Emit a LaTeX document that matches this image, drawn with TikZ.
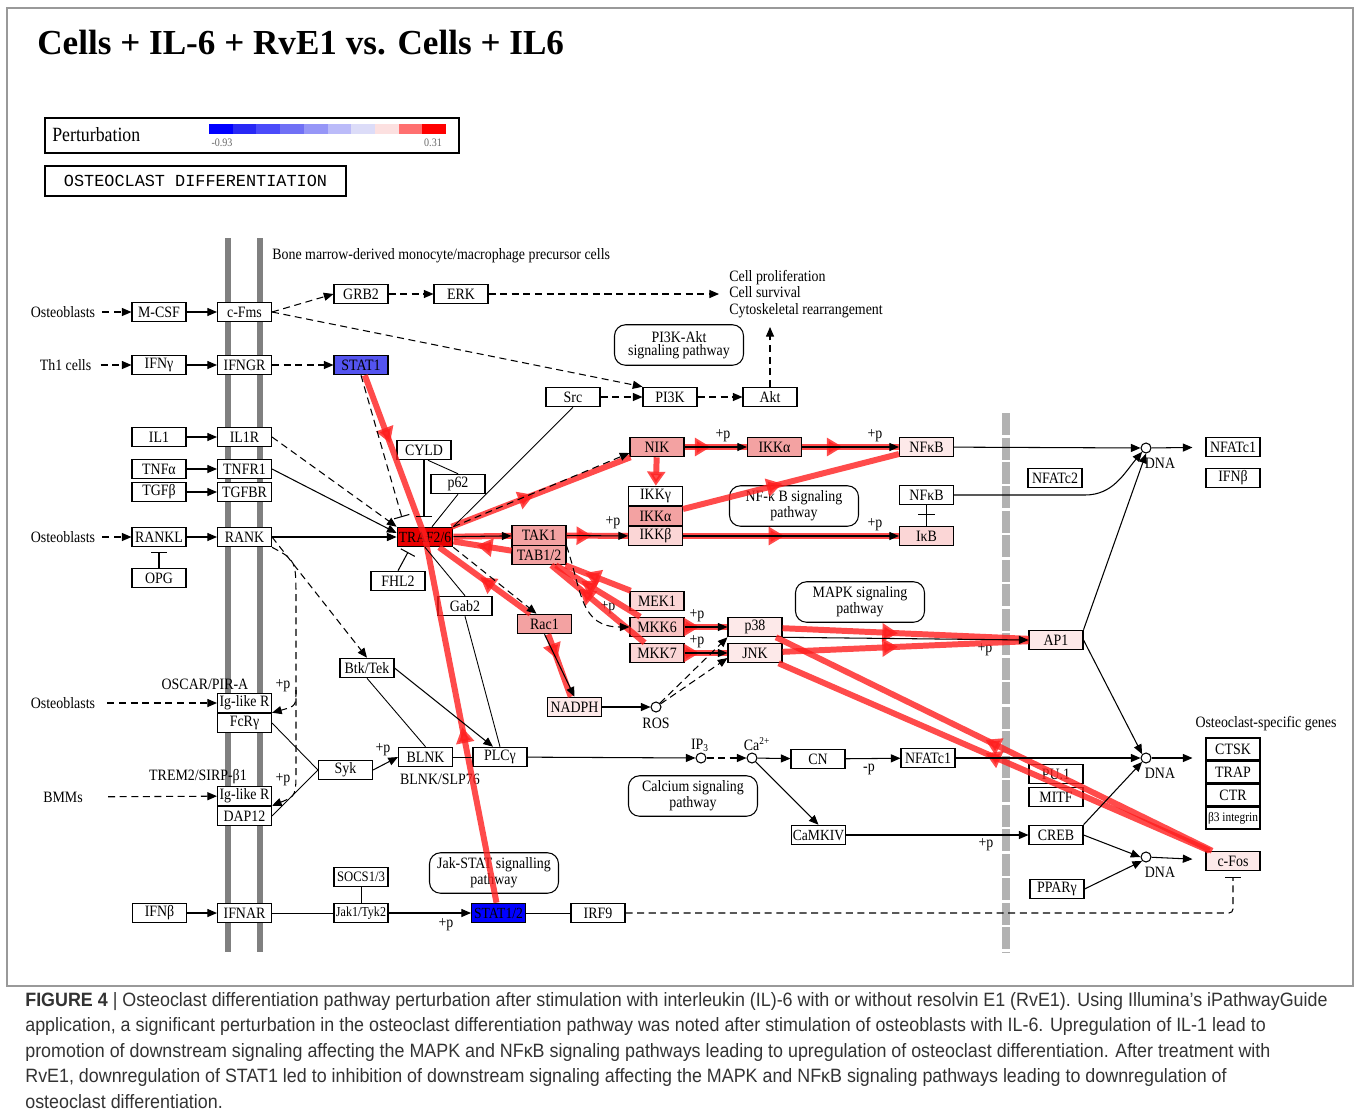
\documentclass[tikz,border=0pt]{standalone}
\usepackage{fontspec}
\setmainfont{Liberation Serif}
\newfontfamily\keggfont[FakeStretch=0.88]{Liberation Serif}
\newfontfamily\capfont[FakeStretch=0.925]{Liberation Sans}
\newfontfamily\legendmono{Liberation Mono}
\usetikzlibrary{arrows.meta, decorations.markings, calc}
\definecolor{PertRed}{RGB}{255,30,30}
\definecolor{StatOne}{RGB}{84,84,240}
\definecolor{StatTwo}{RGB}{0,0,255}
\definecolor{TrafRed}{RGB}{232,0,0}
\definecolor{PinkA}{RGB}{243,162,162}
\definecolor{PinkB}{RGB}{249,196,196}
\definecolor{PinkC}{RGB}{251,214,214}
\definecolor{PinkD}{RGB}{253,233,233}

\begin{document}
\begin{tikzpicture}[x=0.02cm, y=-0.02cm,
  gene/.style={draw, line width=0.6pt, fill=white, minimum width=1.08cm, minimum height=0.39cm, inner sep=1pt, font=\keggfont\fontsize{9}{9.5}\selectfont},
  lbl/.style={inner sep=0pt, font=\keggfont\fontsize{9}{9.4}\selectfont},
  pathbox/.style={draw, line width=0.6pt, rounded corners=0.22cm, align=center, minimum width=2.58cm, minimum height=0.81cm, inner sep=0pt, font=\keggfont\fontsize{9}{7.6}\selectfont},
  dna/.style={draw, circle, line width=0.6pt, fill=white, minimum size=0.2cm, inner sep=0pt},
  ar/.style={line width=0.6pt, -{Triangle[length=5.5pt,width=4.6pt]}},
  dar/.style={ar, dash pattern=on 4pt off 2.6pt},
  ln/.style={line width=0.5pt},
  inh/.style={line width=0.6pt, -{Bar[width=9pt]}},
  dinh/.style={inh, dash pattern=on 4pt off 2.6pt},
  rline/.style={line width=3.4pt, draw=PertRed, opacity=0.8},
  rmark/.style={rline, postaction={decorate}, decoration={markings, mark=at position #1 with {\arrow{Triangle[length=9pt,width=10pt]}}}},
  rmark/.default=0.45,
  rback/.style={rline, postaction={decorate}, decoration={markings, mark=at position #1 with {\arrowreversed{Triangle[length=9pt,width=10pt]}}}},
  rback/.default=0.45]
\useasboundingbox (0,0) rectangle (1358,1116);
\draw[black!40, line width=0.6pt] (7,8) rectangle (1353,986);

% title and legends
\node[anchor=west, inner sep=0pt, font=\bfseries\fontsize{20}{24}\selectfont] (title) at (37,43) {Cells + IL-6 + RvE1 vs. Cells + IL6};
\draw[line width=1.3pt] (45,118) rectangle (459,153);
\node[lbl, anchor=west, font=\keggfont\fontsize{11.5}{12}\selectfont] (pertlbl) at (52,135) {Perturbation};
\foreach \r/\g/\b [count=\i from 0] in {0/0/255, 40/40/245, 75/75/250, 112/112/245, 150/150/247, 187/187/249, 220/220/248, 252/224/224, 255/112/112, 255/0/0}
  \fill[fill={rgb,255:red,\r;green,\g;blue,\b}] (209+23.7*\i,124) rectangle ++(23.7,10);
\node[lbl, font=\keggfont\fontsize{6.5}{7}\selectfont, text=black!60] (pertmin) at (222,143) {-0.93};
\node[lbl, font=\keggfont\fontsize{6.5}{7}\selectfont, text=black!60] (pertmax) at (433,143) {0.31};
\node[draw, line width=1.3pt, minimum width=6.02cm, minimum height=0.6cm, inner sep=0pt, font=\legendmono\fontsize{9.6}{11}\selectfont] (mapname) at (195.5,181) {OSTEOCLAST DIFFERENTIATION};

% membranes
\draw[line width=0.12cm, black!50] (228,238) -- (228,952);
\draw[line width=0.12cm, black!50] (259.5,238) -- (259.5,952);
\draw[line width=0.17cm, black!30, dash pattern=on 0.44cm off 0.05cm] (1006,413) -- (1006,952);

% plain labels
\node[lbl] (ob1) at (63,312) {Osteoblasts};
\node[lbl] (th1) at (65.5,365) {Th1 cells};
\node[lbl] (ob2) at (63,537) {Osteoblasts};
\node[lbl] (ob3) at (63,703) {Osteoblasts};
\node[lbl] (bmms) at (63,797) {BMMs};
\node[lbl] (oscar) at (205,684) {OSCAR/PIR-A};
\node[lbl] (trem) at (198,777) {TREM2/SIRP-β1};
\node[lbl, anchor=west] (bone) at (272,256) {Bone marrow-derived monocyte/macrophage precursor cells};
\node[lbl, anchor=west, align=left] (cellprol) at (729,294) {Cell proliferation\\Cell survival\\Cytoskeletal rearrangement};
\node[lbl] (blnklbl) at (440,779) {BLNK/SLP76};
\node[lbl] (roslbl) at (656,723) {ROS};
\node[lbl] (ip3lbl) at (700,745) {IP\textsubscript{3}};
\node[lbl] (calbl) at (757,744) {Ca\textsuperscript{2+}};
\node[lbl] (dnalbl1) at (1160,463) {DNA};
\node[lbl] (dnalbl2) at (1160,773) {DNA};
\node[lbl] (dnalbl3) at (1160,872) {DNA};
\node[lbl] (genelbl) at (1266,724) {Osteoclast-specific genes};
\node[lbl] (minusp) at (869,769) {-p};
\foreach \x/\y [count=\k] in {283/686, 283/780, 383/750, 613/523, 608/608, 697/616, 697/642, 723/436, 875/436, 875/525, 985/650, 986/845, 446/925}
  \node[lbl] (plus\k) at (\x,\y) {+p};

% pathway boxes
\node[pathbox] (pi3kakt) at (679,345) {PI3K-Akt\\signaling pathway};
\node[pathbox] (nfkbpath) at (794,506) {NF-κ B signaling\\pathway};
\node[pathbox] (mapkpath) at (860,602) {MAPK signaling\\pathway};
\node[pathbox] (capath) at (693,796) {Calcium signaling\\pathway};
\node[pathbox] (jakpath) at (494,873) {Jak-STAT signalling\\pathway};

% receptor column
\node[gene] (mcsf) at (159,312) {M-CSF};
\node[gene] (cfms) at (244.5,312) {c-Fms};
\node[gene] (ifng) at (159,365) {IFNγ};
\node[gene] (ifngr) at (244.5,365) {IFNGR};
\node[gene] (il1) at (159,437) {IL1};
\node[gene] (il1r) at (244.5,437) {IL1R};
\node[gene] (tnfa) at (159,469) {TNFα};
\node[gene] (tnfr1) at (244.5,469) {TNFR1};
\node[gene] (tgfb) at (159,492) {TGFβ};
\node[gene] (tgfbr) at (244.5,492) {TGFBR};
\node[gene] (rankl) at (159,537) {RANKL};
\node[gene] (rank) at (244.5,537) {RANK};
\node[gene] (opg) at (159,578) {OPG};
\node[gene] (iglr1) at (244.5,703) {Ig-like R};
\node[gene] (fcrg) at (244.5,723) {FcRγ};
\node[gene] (iglr2) at (244.5,796) {Ig-like R};
\node[gene] (dap12) at (244.5,816) {DAP12};
\node[gene] (ifnb1) at (159.5,913) {IFNβ};
\node[gene] (ifnar) at (244.5,913) {IFNAR};

% cytoplasm
\node[gene] (grb2) at (361,294) {GRB2};
\node[gene] (erk) at (461,294) {ERK};
\node[gene, fill=StatOne] (stat1) at (361,365) {STAT1};
\node[gene] (src) at (573,397) {Src};
\node[gene] (pi3k) at (670,397) {PI3K};
\node[gene] (akt) at (770,397) {Akt};
\node[gene] (cyld) at (424,450) {CYLD};
\node[gene] (p62) at (458,484) {p62};
\node[gene, fill=TrafRed, font=\keggfont\fontsize{8.8}{9}\selectfont] (traf) at (425,537) {TRAF2/6};
\node[gene] (fhl2) at (398,581) {FHL2};
\node[gene] (gab2) at (465,606) {Gab2};
\node[gene, fill=PinkA] (tak1) at (539,535.5) {TAK1};
\node[gene, fill=PinkA] (tab12) at (539,555) {TAB1/2};
\node[gene, fill=PinkA] (nik) at (657,447) {NIK};
\node[gene, fill=PinkA] (ikka1) at (774.5,447) {IKKα};
\node[gene, fill=PinkD] (nfkb1) at (926.5,447) {NFκB};
\node[gene] (ikkg) at (655.5,496) {IKKγ};
\node[gene, fill=PinkA] (ikka2) at (655.5,516) {IKKα};
\node[gene, fill=PinkC] (ikkb) at (655.5,536) {IKKβ};
\node[gene] (nfkb2) at (926.5,495) {NFκB};
\node[gene, fill=PinkC] (ikb) at (926.5,536) {IκB};
\node[gene, fill=PinkC] (mek1) at (657,601) {MEK1};
\node[gene, fill=PinkB] (mkk6) at (657,627) {MKK6};
\node[gene, fill=PinkC] (mkk7) at (657,653) {MKK7};
\node[gene, fill=PinkD] (p38) at (755,627) {p38};
\node[gene, fill=PinkD] (jnk) at (755,653) {JNK};
\node[gene, fill=PinkA] (rac1) at (544.5,624) {Rac1};
\node[gene, fill=PinkD] (nadph) at (574.5,707) {NADPH};
\node[dna] (ros) at (656,707) {};
\node[gene] (btk) at (367,668) {Btk/Tek};
\node[gene] (syk) at (345.5,770) {Syk};
\node[gene] (blnk) at (425.5,757) {BLNK};
\node[gene] (plcg) at (500,757) {PLCγ};
\node[dna] (ip3) at (701,758) {};
\node[dna] (ca) at (752,758) {};
\node[gene] (cn) at (818,759) {CN};
\node[gene] (nfatc1m) at (928,758) {NFATc1};
\node[gene, font=\keggfont\fontsize{8.8}{9}\selectfont] (camkiv) at (818.5,835) {CaMKIV};
\node[gene, font=\keggfont\fontsize{8.2}{8}\selectfont] (socs) at (361,877) {SOCS1/3};
\node[gene, font=\keggfont\fontsize{7.8}{8}\selectfont] (jak) at (361,913) {Jak1/Tyk2};
\node[gene, fill=StatTwo, font=\keggfont\fontsize{8.8}{9}\selectfont] (stat12) at (498.5,913) {STAT1/2};
\node[gene] (irf9) at (598,913) {IRF9};

% nucleus
\node[gene] (nfatc2) at (1055,478) {NFATc2};
\node[gene, fill=PinkD] (ap1) at (1056,640) {AP1};
\node[gene] (pu1) at (1056,774) {PU.1};
\node[gene] (mitf) at (1056,797) {MITF};
\node[gene] (creb) at (1056,835) {CREB};
\node[gene] (ppar) at (1057,889) {PPARγ};
\node[dna] (dna1) at (1146,448) {};
\node[dna] (dna2) at (1146,758) {};
\node[dna] (dna3) at (1146,857) {};
\node[gene] (nfatc1r) at (1233,447) {NFATc1};
\node[gene] (ifnb2) at (1233,478) {IFNβ};
\node[gene, minimum height=0.44cm] (ctsk) at (1233,749) {CTSK};
\node[gene, minimum height=0.44cm] (trap) at (1233,772) {TRAP};
\node[gene, minimum height=0.44cm] (ctr) at (1233,795) {CTR};
\node[gene, minimum height=0.44cm, font=\keggfont\fontsize{7.4}{7}\selectfont] (b3int) at (1233,818) {β3 integrin};
\node[gene, fill=PinkD] (cfos) at (1233,861) {c-Fos};

% perturbation overlay
\draw[rmark=0.42] (stat1) -- (traf.center);
\draw[rmark=0.48] (stat12) -- (traf.center);
\draw[rmark=0.46] (traf) -- (nik);
\draw[rline] (traf) -- (tak1);
\draw[rmark=0.6] (tab12) -- (traf);
\draw[rback=0.45] (traf) -- (rac1);
\draw[rmark=0.4] (rac1) -- (nadph);
\draw[rback=0.3] (tab12) -- (mek1);
\draw[rback=0.3] (tab12) -- (mkk6);
\draw[rback=0.3] (tab12) -- (mkk7);
\draw[rmark=0.35] (mkk6) -- (p38);
\draw[rmark=0.35] (mkk7) -- (jnk);
\draw[rmark=0.42] (nik) -- (ikka1);
\draw[rmark=0.42] (ikka1) -- (nfkb1);
\draw[rmark=0.46] (ikka2) -- (nfkb1);
\draw[rmark=0.42] (tak1) -- (ikkb);
\draw[rmark=0.47] (ikkb) -- (ikb);
\draw[rline, -{Triangle[length=8pt,width=10pt]}] (nik) -- (ikkg);
\draw[rmark=0.47] (p38) -- (ap1);
\draw[rmark=0.47] (jnk) -- (ap1);
\draw[rback=0.48] (p38) -- (cfos);
\draw[rback=0.48] (jnk) -- (cfos);

% black relations
\draw[dar, shorten <=0.14cm] (ob1) -- (mcsf);
\draw[ar] (mcsf) -- (cfms);
\draw[dar] (cfms.east) -- (grb2.west);
\draw[dar] (grb2) -- (erk);
\draw[dar, shorten >=0.2cm] (erk) -- (cellprol.west);
\draw[dar] (cfms.east) -- (pi3k.north west);
\draw[dar] (src) -- (pi3k);
\draw[dar] (pi3k) -- (akt);
\coordinate (cellend) at (770,327);
\draw[dar] (akt) -- (cellend);
\draw[dar, shorten <=0.18cm] (th1) -- (ifng);
\draw[ar] (ifng) -- (ifngr);
\draw[dar] (ifngr) -- (stat1);
\draw[ar] (il1) -- (il1r);
\draw[ar] (tnfa) -- (tnfr1);
\draw[ar] (tgfb) -- (tgfbr);
\draw[dar, shorten <=0.14cm] (ob2) -- (rankl);
\draw[ar] (rankl) -- (rank);
\draw[inh, shorten >=0.1cm] (opg) -- (rankl);
\draw[dar] (il1r.east) -- (traf.north west);
\draw[ar] (tnfr1.east) -- ($(traf.west)+(0,-4)$);
\draw[ar] (rank) -- (traf);
\draw[dinh, shorten >=0.2cm] (stat1.south) -- ($(traf.north west)+(8,0)$);
\draw[inh, shorten >=0.2cm] (cyld.south) -- (cyld.south |- traf.north);
\draw[inh, shorten >=0.11cm] (fhl2.north) -- ($(traf.south west)+(14,0)$);
\draw[ln] ($(cyld.south)+(4,0)$) -- (p62.north);
\draw[ln] (p62.south) -- ($(traf.north)+(7,0)$);
\draw[ln] (src.south) -- (traf.north east);
\draw[ln] (traf.south) -- (gab2.north);
\draw[dar] (traf.south east) -- ($(rac1.north)+(-8,0)$);
\draw[dar] (traf.north east) -- ($(nik.west)+(0,6)$);
\draw[ar] (traf) -- (tak1);
\draw[ar] (tak1) -- (ikkb);
\draw[dar] (tak1.south east) .. controls (582,592) and (580,627) .. (mkk6.west);
\draw[ar] (nik) -- (ikka1);
\draw[ar] (ikka1) -- (nfkb1);
\draw[ar] (ikkb) -- (ikb);
\draw[ln] (nfkb2) -- (ikb);
\draw[ln] (918,514) -- (935,514);
\draw[ar] (mkk6) -- (p38);
\draw[ar] (mkk7) -- (jnk);
\draw[ar] (rac1.south) -- (nadph.north);
\draw[ar] (nadph) -- (ros);
\draw[dar] (ros) -- (p38.south west);
\draw[dar] (ros) -- ($(jnk.west)+(0,5)$);
\draw[ar] (p38.south east) -- (ap1.west);
\draw[dar] (rank.east) -- (btk.north);
\draw[dar] (rank.south east) .. controls (296,560) .. (296,600) -- (296,768) .. controls (296,796) .. (dap12.north east);
\coordinate (rkfork) at (296,690);
\draw[dar] (rkfork) .. controls (296,706) .. (fcrg.north east);
\draw[dar, shorten <=0.24cm] (ob3) -- (iglr1);
\draw[dar, shorten <=0.5cm] (bmms) -- (iglr2);
\draw[ln] (fcrg.east) -- (syk.west);
\draw[ln] (dap12.east) -- (syk.west);
\draw[ar] (syk.east) -- (blnk.west);
\draw[ln] (blnk) -- (plcg);
\draw[ln] (btk.south) -- (blnk.north);
\draw[ar] (btk.east) -- ($(plcg.north)+(-7,0)$);
\draw[ln] (gab2.south) -- (plcg.north);
\draw[ar] (plcg) -- (ip3);
\draw[dar] (ip3) -- (ca);
\draw[ar] (ca) -- (cn);
\draw[ar] (ca) -- (camkiv.north);
\draw[ar] (cn) -- (nfatc1m);
\draw[ar] (nfatc1m) -- (dna2);
\draw[ar] (camkiv) -- (creb);
\draw[ar] (ifnb1) -- (ifnar);
\draw[ln] (ifnar) -- (jak);
\draw[ln] (socs) -- (jak);
\draw[ar] (jak) -- (stat12);
\draw[ln] (stat12) -- (irf9);
\draw[dinh, rounded corners=0.08cm, shorten >=0.12cm] (irf9.east) -| (cfos.south);
\draw[ar] (nfkb1) -- (dna1);
\draw[ar] (nfkb2.east) -- (1085,495) to[out=0, in=-130] (dna1.south west);
\draw[ar, shorten >=0.26cm] (dna1) -- (nfatc1r);
\draw[ar] (ap1.north east) -- (dna1.south);
\draw[ar] (ap1.east) -- (dna2.north west);
\draw[ar, shorten >=0.26cm] (dna2.east) -- (ctsk.west |- dna2.east);
\draw[ar] (creb.north east) -- (dna2.south west);
\draw[ar] (creb.east) -- (dna3.west);
\draw[ar] (ppar.east) -- (dna3.south west);
\draw[ar, shorten >=0.26cm] (dna3) -- (cfos);

% caption
\begin{scope}[every node/.style={anchor=base west, inner sep=0pt, text=black!80, font=\capfont\fontsize{11}{12}\selectfont}]
\node (cap1) at (25,1006) {\textbf{FIGURE 4} | Osteoclast differentiation pathway perturbation after stimulation with interleukin (IL)-6 with or without resolvin E1 (RvE1). Using Illumina’s iPathwayGuide};
\node (cap2) at (25,1031) {application, a significant perturbation in the osteoclast differentiation pathway was noted after stimulation of osteoblasts with IL-6. Upregulation of IL-1 lead to};
\node (cap3) at (25,1057) {promotion of downstream signaling affecting the MAPK and NFκB signaling pathways leading to upregulation of osteoclast differentiation. After treatment with};
\node (cap4) at (25,1082) {RvE1, downregulation of STAT1 led to inhibition of downstream signaling affecting the MAPK and NFκB signaling pathways leading to downregulation of};
\node (cap5) at (25,1108) {osteoclast differentiation.};
\end{scope}
\end{tikzpicture}
\end{document}
